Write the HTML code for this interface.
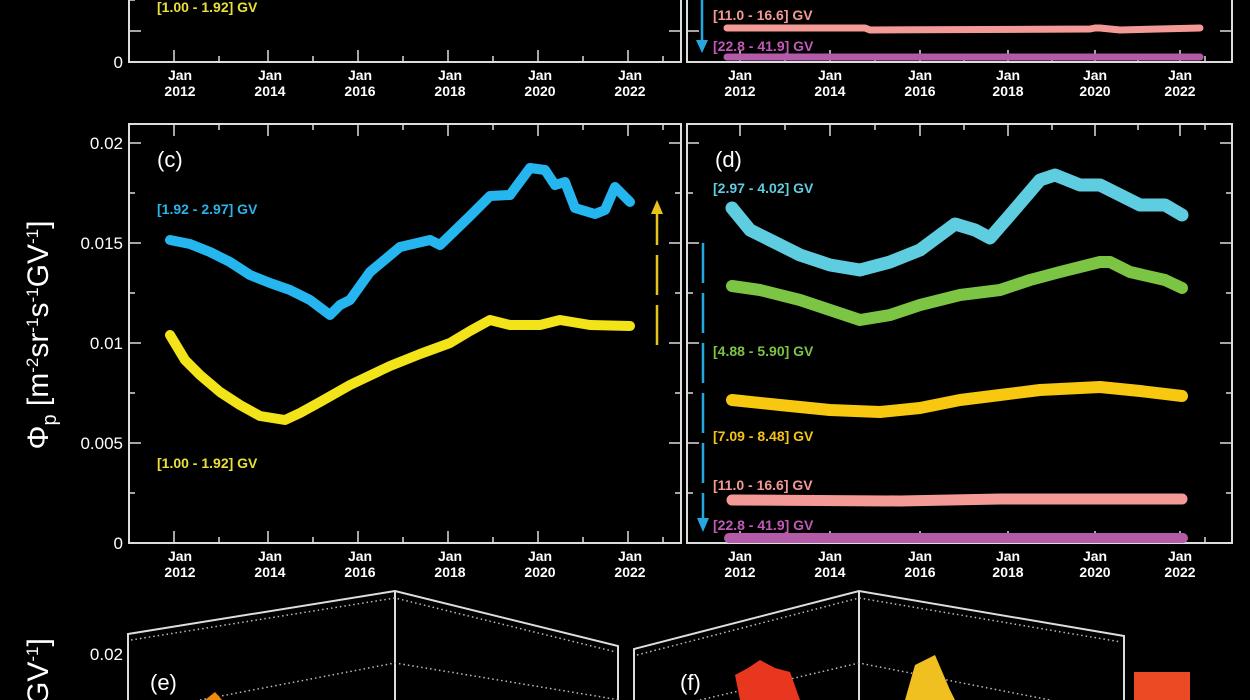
<!DOCTYPE html>
<html><head><meta charset="utf-8"><style>
html,body{margin:0;padding:0;background:#000;width:1250px;height:700px;overflow:hidden}
text{font-family:"Liberation Sans",sans-serif}
</style></head><body>
<svg width="1250" height="700" viewBox="0 0 1250 700" xmlns="http://www.w3.org/2000/svg">
<rect width="1250" height="700" fill="#000"/>
<g stroke="#ddd" stroke-width="2" fill="none">
 <polyline points="129,0 129,62 681,62 681,0"/>
 <polyline points="687,0 687,62 1232,62 1232,0"/>
 <rect x="129" y="124" width="552" height="419"/>
 <rect x="687" y="124" width="545" height="419"/>
</g>
<g stroke="#ddd" stroke-width="1.5">
 <path d="M174,62v-12M219,62v-6M268,62v-12M313,62v-6M358,62v-12M403,62v-6M448,62v-12M493,62v-6M538,62v-12M583,62v-6M628,62v-12M663,62v-6"/>
 <path d="M174,543v-12M219,543v-6M268,543v-12M313,543v-6M358,543v-12M403,543v-6M448,543v-12M493,543v-6M538,543v-12M583,543v-6M628,543v-12M663,543v-6"/>
 <path d="M174,124v12M219,124v6M268,124v12M313,124v6M358,124v12M403,124v6M448,124v12M493,124v6M538,124v12M583,124v6M628,124v12M663,124v6"/>
 <path d="M740,62v-12M785,62v-6M830,62v-12M875,62v-6M920,62v-12M964,62v-6M1008,62v-12M1052,62v-6M1095,62v-12M1138,62v-6M1180,62v-12M1205,62v-6"/>
 <path d="M740,543v-12M785,543v-6M830,543v-12M875,543v-6M920,543v-12M964,543v-6M1008,543v-12M1052,543v-6M1095,543v-12M1138,543v-6M1180,543v-12M1205,543v-6"/>
 <path d="M740,124v12M785,124v6M830,124v12M875,124v6M920,124v12M964,124v6M1008,124v12M1052,124v6M1095,124v12M1138,124v6M1180,124v12M1205,124v6"/>
 <path d="M129,143h12M129,193h6M129,243h12M129,293h6M129,343h12M129,393h6M129,443h12M129,493h6"/>
 <path d="M681,143h-12M681,193h-6M681,243h-12M681,293h-6M681,343h-12M681,393h-6M681,443h-12M681,493h-6"/>
 <path d="M687,143h12M687,193h6M687,243h12M687,293h6M687,343h12M687,393h6M687,443h12M687,493h6"/>
 <path d="M1232,143h-12M1232,193h-6M1232,243h-12M1232,293h-6M1232,343h-12M1232,393h-6M1232,443h-12M1232,493h-6"/>
 <path d="M129,31h12M129,0h6M681,31h-12M687,31h12M1232,31h-12"/>
</g>
<g fill="#fff" font-size="14" font-weight="bold" text-anchor="middle">
 <text x="180" y="80">Jan</text><text x="180" y="96">2012</text>
 <text x="270" y="80">Jan</text><text x="270" y="96">2014</text>
 <text x="360" y="80">Jan</text><text x="360" y="96">2016</text>
 <text x="450" y="80">Jan</text><text x="450" y="96">2018</text>
 <text x="540" y="80">Jan</text><text x="540" y="96">2020</text>
 <text x="630" y="80">Jan</text><text x="630" y="96">2022</text>
 <text x="740" y="80">Jan</text><text x="740" y="96">2012</text>
 <text x="830" y="80">Jan</text><text x="830" y="96">2014</text>
 <text x="920" y="80">Jan</text><text x="920" y="96">2016</text>
 <text x="1008" y="80">Jan</text><text x="1008" y="96">2018</text>
 <text x="1095" y="80">Jan</text><text x="1095" y="96">2020</text>
 <text x="1180" y="80">Jan</text><text x="1180" y="96">2022</text>
 <text x="180" y="561">Jan</text><text x="180" y="577">2012</text>
 <text x="270" y="561">Jan</text><text x="270" y="577">2014</text>
 <text x="360" y="561">Jan</text><text x="360" y="577">2016</text>
 <text x="450" y="561">Jan</text><text x="450" y="577">2018</text>
 <text x="540" y="561">Jan</text><text x="540" y="577">2020</text>
 <text x="630" y="561">Jan</text><text x="630" y="577">2022</text>
 <text x="740" y="561">Jan</text><text x="740" y="577">2012</text>
 <text x="830" y="561">Jan</text><text x="830" y="577">2014</text>
 <text x="920" y="561">Jan</text><text x="920" y="577">2016</text>
 <text x="1008" y="561">Jan</text><text x="1008" y="577">2018</text>
 <text x="1095" y="561">Jan</text><text x="1095" y="577">2020</text>
 <text x="1180" y="561">Jan</text><text x="1180" y="577">2022</text>
</g>
<g fill="#fff" font-size="17" text-anchor="end">
 <text x="123" y="68">0</text>
 <text x="123" y="149">0.02</text>
 <text x="123" y="249">0.015</text>
 <text x="123" y="349">0.01</text>
 <text x="123" y="449">0.005</text>
 <text x="123" y="549">0</text>
 <text x="123" y="660">0.02</text>
</g>
<text transform="translate(48,335) rotate(-90)" fill="#fff" font-size="30" text-anchor="middle">Φ<tspan font-size="20" dy="8">p</tspan><tspan dy="-8"> [m</tspan><tspan font-size="17" dy="-10">-2</tspan><tspan dy="10">sr</tspan><tspan font-size="17" dy="-10">-1</tspan><tspan dy="10">s</tspan><tspan font-size="17" dy="-10">-1</tspan><tspan dy="10">GV</tspan><tspan font-size="17" dy="-10">-1</tspan><tspan dy="10">]</tspan></text>
<text transform="translate(48,705) rotate(-90)" fill="#fff" font-size="30">GV<tspan font-size="17" dy="-10">-1</tspan><tspan dy="10">]</tspan></text>
<g fill="#fff" font-size="22"><text x="157" y="167">(c)</text><text x="715" y="167">(d)</text><text x="150" y="690">(e)</text><text x="680" y="690">(f)</text></g>
<g font-size="14" font-weight="bold">
 <text x="157" y="12" fill="#e8e03a">[1.00 - 1.92] GV</text>
 <text x="713" y="20" fill="#f49a96">[11.0 - 16.6] GV</text>
 <text x="713" y="51" fill="#c35ab8">[22.8 - 41.9] GV</text>
 <text x="157" y="214" fill="#2ab4ea">[1.92 - 2.97] GV</text>
 <text x="157" y="468" fill="#e8e03a">[1.00 - 1.92] GV</text>
 <text x="713" y="193" fill="#5fcde0">[2.97 - 4.02] GV</text>
 <text x="713" y="356" fill="#7cc443">[4.88 - 5.90] GV</text>
 <text x="713" y="441" fill="#f3c316">[7.09 - 8.48] GV</text>
 <text x="713" y="490" fill="#f49a96">[11.0 - 16.6] GV</text>
 <text x="713" y="530" fill="#c35ab8">[22.8 - 41.9] GV</text>
</g>
<g fill="none" stroke-linejoin="round" stroke-linecap="round">
 <polyline stroke="#f49a96" stroke-width="7" points="727,28 865,28 870,30 1090,29 1095,28 1100,28 1120,30 1200,28"/>
 <polyline stroke="#b35aa8" stroke-width="7" points="727,57 1200,57"/>
 <polyline stroke="#25b5ef" stroke-width="10" points="170,240 190,244 210,252 230,262 250,275 270,283 290,290 310,300 330,315 340,305 350,300 370,272 400,247 430,240 440,245 470,216 490,196 510,195 530,168 545,170 555,185 565,182 575,208 595,214 605,210 615,187 630,202"/>
 <polyline stroke="#f2e419" stroke-width="10" points="170,335 185,360 200,375 220,392 240,405 260,416 285,420 300,413 320,402 350,385 390,366 420,354 450,343 470,331 490,320 510,325 540,325 560,320 590,325 630,326"/>
 <polyline stroke="#5fcde0" stroke-width="13" points="732,208 750,230 770,240 800,255 830,265 860,270 890,262 920,250 955,224 975,230 990,238 1010,215 1040,180 1055,175 1080,185 1100,185 1120,195 1140,205 1165,205 1182,215"/>
 <polyline stroke="#7cc443" stroke-width="12" points="732,286 760,290 800,300 830,310 860,320 890,315 920,305 960,295 1000,290 1030,280 1060,272 1100,262 1110,262 1130,272 1165,280 1182,288"/>
 <polyline stroke="#f7c80f" stroke-width="12" points="732,400 780,405 830,410 880,412 920,408 960,400 1000,395 1040,390 1100,387 1140,391 1182,396"/>
 <polyline stroke="#f49a96" stroke-width="11" points="732,500 900,501 1000,499 1182,499"/>
 <polyline stroke="#b35aa8" stroke-width="10" points="729,538 1183,538"/>
</g>
<g>
 <line x1="657" y1="345" x2="657" y2="212" stroke="#e8c31a" stroke-width="2.5" stroke-dasharray="40,10"/>
 <polygon points="651,214 663,214 657,200" fill="#e8c31a"/>
 <line x1="703" y1="243" x2="703" y2="520" stroke="#25a8e0" stroke-width="2.5" stroke-dasharray="40,10"/>
 <polygon points="697,518 709,518 703,532" fill="#25a8e0"/>
 <line x1="702" y1="0" x2="702" y2="40" stroke="#25a8e0" stroke-width="2.5"/>
 <polygon points="696,40 708,40 702,53" fill="#25a8e0"/>
</g>
<g stroke="#ddd" stroke-width="2" fill="none">
 <polyline points="128,700 128,634 395,591 618,646 618,700"/>
 <line x1="395" y1="591" x2="395" y2="700"/>
 <polyline points="634,700 634,649 859,591 1124,636 1124,700"/>
 <line x1="859" y1="591" x2="859" y2="700"/>
</g>
<g stroke="#bbb" stroke-width="1.5" fill="none" stroke-dasharray="1.5,3">
 <polyline points="131,640 395,598 616,652"/>
 <polyline points="637,655 859,598 1121,642"/>
 <polyline points="200,700 395,663 620,700"/>
 <polyline points="700,700 859,663 1050,700"/>
</g>
<polygon points="735,675 748,668 760,660 775,668 790,672 800,700 740,700" fill="#e8361f"/>
<polygon points="905,700 915,665 935,655 950,690 955,700" fill="#f0c020"/>
<polygon points="205,700 215,692 222,700" fill="#f08a10"/>
<rect x="1134" y="672" width="56" height="28" fill="#ec4a25"/>
</svg>
</body></html>
